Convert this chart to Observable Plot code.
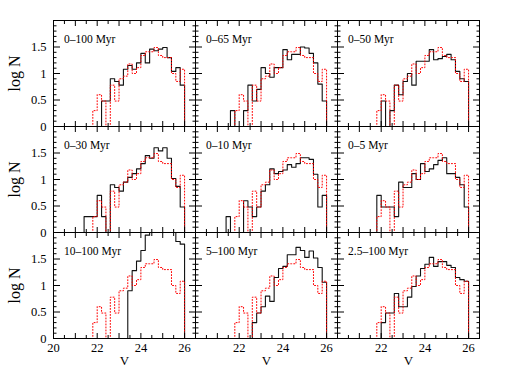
<!DOCTYPE html>
<html><head><meta charset="utf-8">
<script src="https://cdn.jsdelivr.net/npm/d3@7"></script>
<script src="https://cdn.jsdelivr.net/npm/@observablehq/plot@0.6"></script>
<style>
body{margin:0;background:#fff;}
#chart{width:510px;height:382px;}
</style></head><body><div id="chart"></div>
<script>
// bin edges in V (bin width 0.2 mag)
const binEdges = [20.0,20.2,20.4,20.6,20.8,21.0,21.2,21.4,21.6,21.8,22.0,22.2,22.4,22.6,22.8,23.0,23.2,23.4,23.6,23.8,24.0,24.2,24.4,24.6,24.8,25.0,25.2,25.4,25.6,25.8,26.0];

const panelLabels = ["0–100 Myr","0–65 Myr","0–50 Myr","0–30 Myr","0–10 Myr","0–5 Myr","10–100 Myr","5–100 Myr","2.5–100 Myr"];
const panelCols = [0,1,2,0,1,2,0,1,2];
const panelRows = [0,0,0,1,1,1,2,2,2];

// observed log N (red dotted, same in every panel)
const observedLogN = [null,null,null,null,0,0,0,0,0,0.3,0.6,0.48,0,0.78,0.48,0.9,0.95,1.18,1.0,1.11,1.34,1.41,1.41,1.49,1.34,1.3,1.3,1.0,0.85,1.08];

// model log N (black solid), one array per panel
const model_0_100   = [0,0,0,0,0,0,0,0,0,0,0,0.48,0.48,0.9,0.85,0.78,1.08,1.15,1.08,1.2,1.38,1.2,1.46,1.43,1.46,1.49,1.3,1.04,1.11,0.78];
const model_0_65    = [0,0,0,0,0,0,0,0,0.3,0,0,0.3,0.78,0.48,0.7,1.11,1.0,0.93,1.11,1.11,1.45,1.26,1.36,1.36,1.5,1.48,1.38,1.2,0.8,0.48];
const model_0_50    = [0,0,0,0,0,0,0,0,0,0,0.48,0,0.3,0.78,0.6,0.85,1.0,0.78,1.23,1.23,1.23,1.45,1.26,1.28,1.32,1.36,1.26,1.04,0.9,0.85];
const model_0_30    = [0,0,0,0,0,0,0,0.3,0.3,0.3,0.7,0.3,0,0.9,0.85,0.78,0.95,1.04,1.11,1.2,1.3,1.45,1.4,1.6,1.54,1.6,1.4,1.02,0.87,0.48];
const model_0_10    = [0,0,0,0,0,0,0,0.3,0,0,0,0.6,0.48,0.3,0.48,0.78,0.9,1.2,1.11,1.15,1.18,1.28,1.23,1.3,1.41,1.41,1.38,1.1,0.48,0.7];
const model_0_5     = [0,0,0,0,0,0,0,0,0,0.7,0.48,0.48,0.48,0.3,0.95,0.85,0.85,1.11,1.0,1.3,1.15,1.2,1.28,1.36,1.41,1.11,1.11,1.04,0.9,0.48];
const model_10_100  = [0,0,0,0,0,0,0,0,0,0,0,0,0,0,0,0,0,0.9,1.28,1.46,1.66,1.95,2.06,2.1,2.12,2.1,2.08,2.03,1.83,1.78];
const model_5_100   = [0,0,0,0,0,0,0,0,0,0,0,0,0,0.3,0.48,0.6,0.8,0.7,1.15,1.32,1.36,1.58,1.58,1.72,1.66,1.53,1.65,1.52,1.34,1.06];
const model_2_5_100 = [0,0,0,0,0,0,0,0,0,0,0.3,0.48,0.48,0.85,0.6,0.6,0.78,0.98,1.18,1.32,1.4,1.53,1.36,1.45,1.45,1.38,1.34,1.15,1.11,1.08];

const models = [model_0_100, model_0_65, model_0_50, model_0_30, model_0_10, model_0_5, model_10_100, model_5_100, model_2_5_100];

// axis tick values
const xMajorTicks = [20,21,22,23,24,25,26];
const xMinorTicks = [20.5,21.5,22.5,23.5,24.5,25.5];
const xTickLabels = [22,24,26];
const xFirstLabel = [20];
const yMajorTicks = [0,0.5,1,1.5,2];
const yMinorTicks = [0.1,0.2,0.3,0.4,0.6,0.7,0.8,0.9,1.1,1.2,1.3,1.4,1.6,1.7,1.8,1.9];
const yTickLabels = [0,0.5,1,1.5];

function steps(values, p) {
  const pts = [];
  values.forEach((v, i) => { if (v !== null) pts.push({V: binEdges[i], logN: v, panel: p, col: panelCols[p], row: panelRows[p]}); });
  pts.push({V: binEdges[values.length], logN: 0, panel: p, col: panelCols[p], row: panelRows[p]});
  return pts;
}

const blackData = models.flatMap((m, p) => steps(m, p));
const redData = models.flatMap((m, p) => steps(observedLogN, p));

const font = "Liberation Serif";
const tickOpts = {fill: "none", label: null, facetAnchor: null, stroke: "black", strokeWidth: 1};

const chart = Plot.plot({
  width: 510, height: 382,
  marginLeft: 52, marginRight: 30, marginTop: 18.5, marginBottom: 43.5,
  style: {fontFamily: font, background: "white", color: "black"},
  x: {domain: [20, 26.5]},
  y: {domain: [0, 2]},
  fx: {domain: [0,1,2], padding: 0, axis: null},
  fy: {domain: [0,1,2], padding: 0, axis: null},
  marks: [
    Plot.line(blackData, {x: "V", y: "logN", z: "panel", fx: "col", fy: "row", curve: "step-after", stroke: "#111", strokeWidth: 1.1, clip: true}),
    Plot.line(redData, {x: "V", y: "logN", z: "panel", fx: "col", fy: "row", curve: "step-after", stroke: "#ff0000", strokeWidth: 1, strokeDasharray: "1,2", clip: true}),
    Plot.frame({stroke: "black", strokeWidth: 1}),
    Plot.axisY(yMajorTicks, {...tickOpts, anchor: "left", tickSize: -7}),
    Plot.axisY(yMinorTicks, {...tickOpts, anchor: "left", tickSize: -3.5}),
    Plot.axisY(yMajorTicks, {...tickOpts, anchor: "right", tickSize: -7}),
    Plot.axisY(yMinorTicks, {...tickOpts, anchor: "right", tickSize: -3.5}),
    Plot.axisX(xMajorTicks, {...tickOpts, anchor: "bottom", tickSize: -5}),
    Plot.axisX(xMinorTicks, {...tickOpts, anchor: "bottom", tickSize: -3}),
    Plot.axisX(xMajorTicks, {...tickOpts, anchor: "top", tickSize: -5}),
    Plot.axisX(xMinorTicks, {...tickOpts, anchor: "top", tickSize: -3}),
    Plot.axisY(yTickLabels, {anchor: "left", tickSize: 0, tickPadding: 7, label: null, stroke: "none", fill: "black", fontSize: 12.5, tickFormat: d => String(d)}),
    Plot.axisX(xTickLabels, {anchor: "bottom", tickSize: 0, tickPadding: 5, label: null, stroke: "none", fill: "black", fontSize: 12.5, tickFormat: d => String(d)}),
    Plot.text(xFirstLabel, {x: d => d, fx: d => 0, fy: d => 2, text: d => String(d), frameAnchor: "bottom", lineAnchor: "top", dy: 5, fontSize: 12.5, fill: "black"}),
    Plot.text(panelLabels, {text: d => d, fx: (d, i) => panelCols[i], fy: (d, i) => panelRows[i], frameAnchor: "top-left", textAnchor: "start", lineAnchor: "top", dx: 10.5, dy: 14.3, fontSize: 11.5, fill: "black", style: {letterSpacing: "0.4px"}}),
    Plot.text([0,1,2], {text: d => "log N", fx: d => 0, fy: d => d, frameAnchor: "left", rotate: -90, dx: -39, textAnchor: "middle", lineAnchor: "middle", fontSize: 16, fill: "black"}),
    Plot.text([0,1,2], {text: d => "V", fx: d => d, fy: d => 2, frameAnchor: "bottom", lineAnchor: "top", dy: 17, fontSize: 13, fill: "black"})
  ]
});
document.getElementById("chart").appendChild(chart);
</script>
</body></html>
